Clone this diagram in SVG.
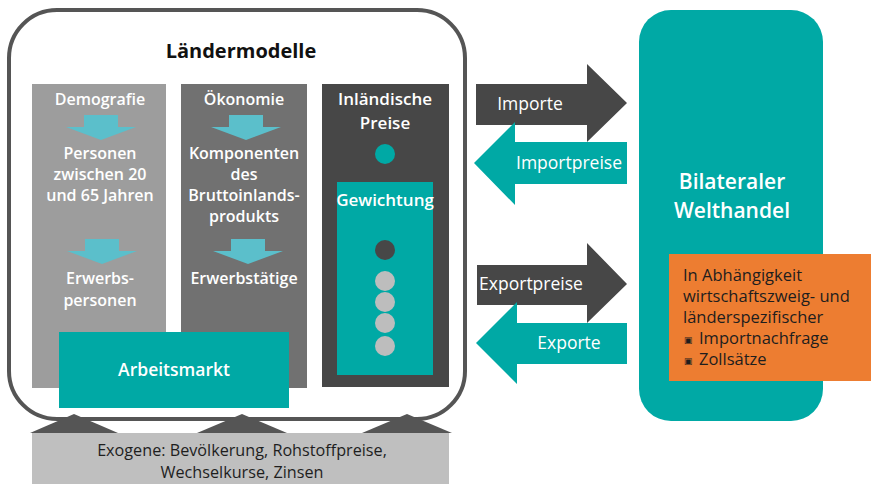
<svg xmlns="http://www.w3.org/2000/svg" width="871" height="484" viewBox="0 0 871 484">
<style>
.w{fill:#fff;font-family:"Open Sans","Noto Sans",sans-serif;}
.cb{font-size:16px;font-weight:600;text-anchor:middle;}
.cl{font-size:17px;}
.ar{font-size:17.5px;font-weight:400;text-anchor:middle;}
.dk{fill:#1e1e1e;font-family:"Open Sans","Noto Sans",sans-serif;font-size:16.5px;}
.ex{font-size:16.2px;text-anchor:middle;}
.bl{font-size:9px;}
.la{fill:#5bbfcb;}
</style>
<defs>
<path id="down" d="M-17,0 H17 V12 H35 L0,25 L-35,12 H-17 Z"/>
</defs>
<rect width="871" height="484" fill="#fff"/>
<g id="exogene">
<rect x="32" y="433" width="417" height="51" fill="#bfbfbf"/>
<text class="dk ex" x="242" y="456">Exogene: Bevölkerung, Rohstoffpreise,</text>
<text class="dk ex" x="242" y="478">Wechselkurse, Zinsen</text>
</g>
<g id="laendermodelle">
<rect x="9" y="10" width="456" height="409" rx="48" ry="48" fill="#fff" stroke="#555" stroke-width="4"/>
<text x="241" y="58" font-family="'Open Sans','Noto Sans',sans-serif" font-size="20" font-weight="700" fill="#111" text-anchor="middle">Ländermodelle</text>
</g>
<g id="demografie">
<rect x="32" y="84" width="134" height="304" fill="#9d9d9d"/>
<text class="w cb" x="100" y="105">Demografie</text>
<use href="#down" x="101" y="115" class="la"/>
<text class="w cb" x="100" y="159">Personen</text>
<text class="w cb" x="100" y="180">zwischen 20</text>
<text class="w cb" x="100" y="201">und 65 Jahren</text>
<use href="#down" x="102" y="239" class="la"/>
<text class="w cb" x="100" y="284">Erwerbs-</text>
<text class="w cb" x="100" y="306">personen</text>
</g>
<g id="oekonomie">
<rect x="181" y="84" width="126" height="304" fill="#717171"/>
<text class="w cb" x="244" y="105">Ökonomie</text>
<use href="#down" x="246" y="115" class="la"/>
<text class="w cb" x="244" y="159">Komponenten</text>
<text class="w cb" x="244" y="180">des</text>
<text class="w cb" x="244" y="201">Bruttoinlands-</text>
<text class="w cb" x="244" y="222">produkts</text>
<use href="#down" x="248" y="239" class="la"/>
<text class="w cb" x="244" y="284">Erwerbstätige</text>
</g>
<g id="preise">
<rect x="322" y="84" width="127" height="303" fill="#474747"/>
<text class="w cb cl" x="385" y="105">Inländische</text>
<text class="w cb cl" x="385" y="129">Preise</text>
<circle cx="385" cy="154" r="10" fill="#00a9a5"/>
</g>
<g id="gewichtung">
<rect x="337" y="182" width="96" height="193" fill="#00a9a5"/>
<text class="w cb cl" x="385" y="206">Gewichtung</text>
<circle cx="385" cy="250" r="10" fill="#474747"/>
<circle cx="385" cy="281" r="10" fill="#bdbdbd"/>
<circle cx="385" cy="302" r="10" fill="#bdbdbd"/>
<circle cx="385" cy="323" r="10" fill="#bdbdbd"/>
<circle cx="385" cy="346" r="10" fill="#bdbdbd"/>
</g>
<g id="arbeitsmarkt">
<rect x="59" y="332" width="230" height="76" fill="#00a9a5"/>
<text class="w" x="174" y="376" font-size="17.5" font-weight="600" text-anchor="middle">Arbeitsmarkt</text>
</g>
<g id="welthandel">
<rect x="639" y="10" width="184" height="411" rx="32" ry="32" fill="#00a9a5"/>
<text class="w" x="732" y="189" font-size="21" font-weight="600" text-anchor="middle">Bilateraler</text>
<text class="w" x="732" y="218" font-size="21" font-weight="600" text-anchor="middle">Welthandel</text>
</g>
<g id="abhaengigkeit">
<rect x="669" y="254" width="202" height="127" fill="#ed7d31"/>
<text class="dk" x="683" y="281">In Abhängigkeit</text>
<text class="dk" x="683" y="302">wirtschaftszweig- und</text>
<text class="dk" x="683" y="323">länderspezifischer</text>
<text class="dk bl" x="684" y="343">▣</text>
<text class="dk" x="699" y="344">Importnachfrage</text>
<text class="dk bl" x="684" y="364">▣</text>
<text class="dk" x="699" y="365">Zollsätze</text>
</g>
<g id="connectors">
<g id="exogene-arrows" fill="#555">
<polygon points="30,433 118,433 74,414"/>
<polygon points="197,433 287,433 242,414"/>
<polygon points="362,433 452,433 407,414"/>
</g>
<g id="importe">
<polygon points="476,84 587,84 587,64 627,103 587,142 587,125 476,125" fill="#474747"/>
<text class="w ar" x="530" y="110">Importe</text>
</g>
<g id="importpreise">
<polygon points="627,142 515,142 515,122 474,163 515,205 515,184 627,184" fill="#00a9a5"/>
<text class="w ar" x="569" y="169">Importpreise</text>
</g>
<g id="exportpreise">
<polygon points="477,265 587,265 587,243 627,284 587,323 587,305 477,305" fill="#474747"/>
<text class="w ar" x="531" y="290">Exportpreise</text>
</g>
<g id="exporte">
<polygon points="627,323 517,323 517,302 476,343 517,384 517,364 627,364" fill="#00a9a5"/>
<text class="w ar" x="569" y="349">Exporte</text>
</g>
</g>
</svg>
